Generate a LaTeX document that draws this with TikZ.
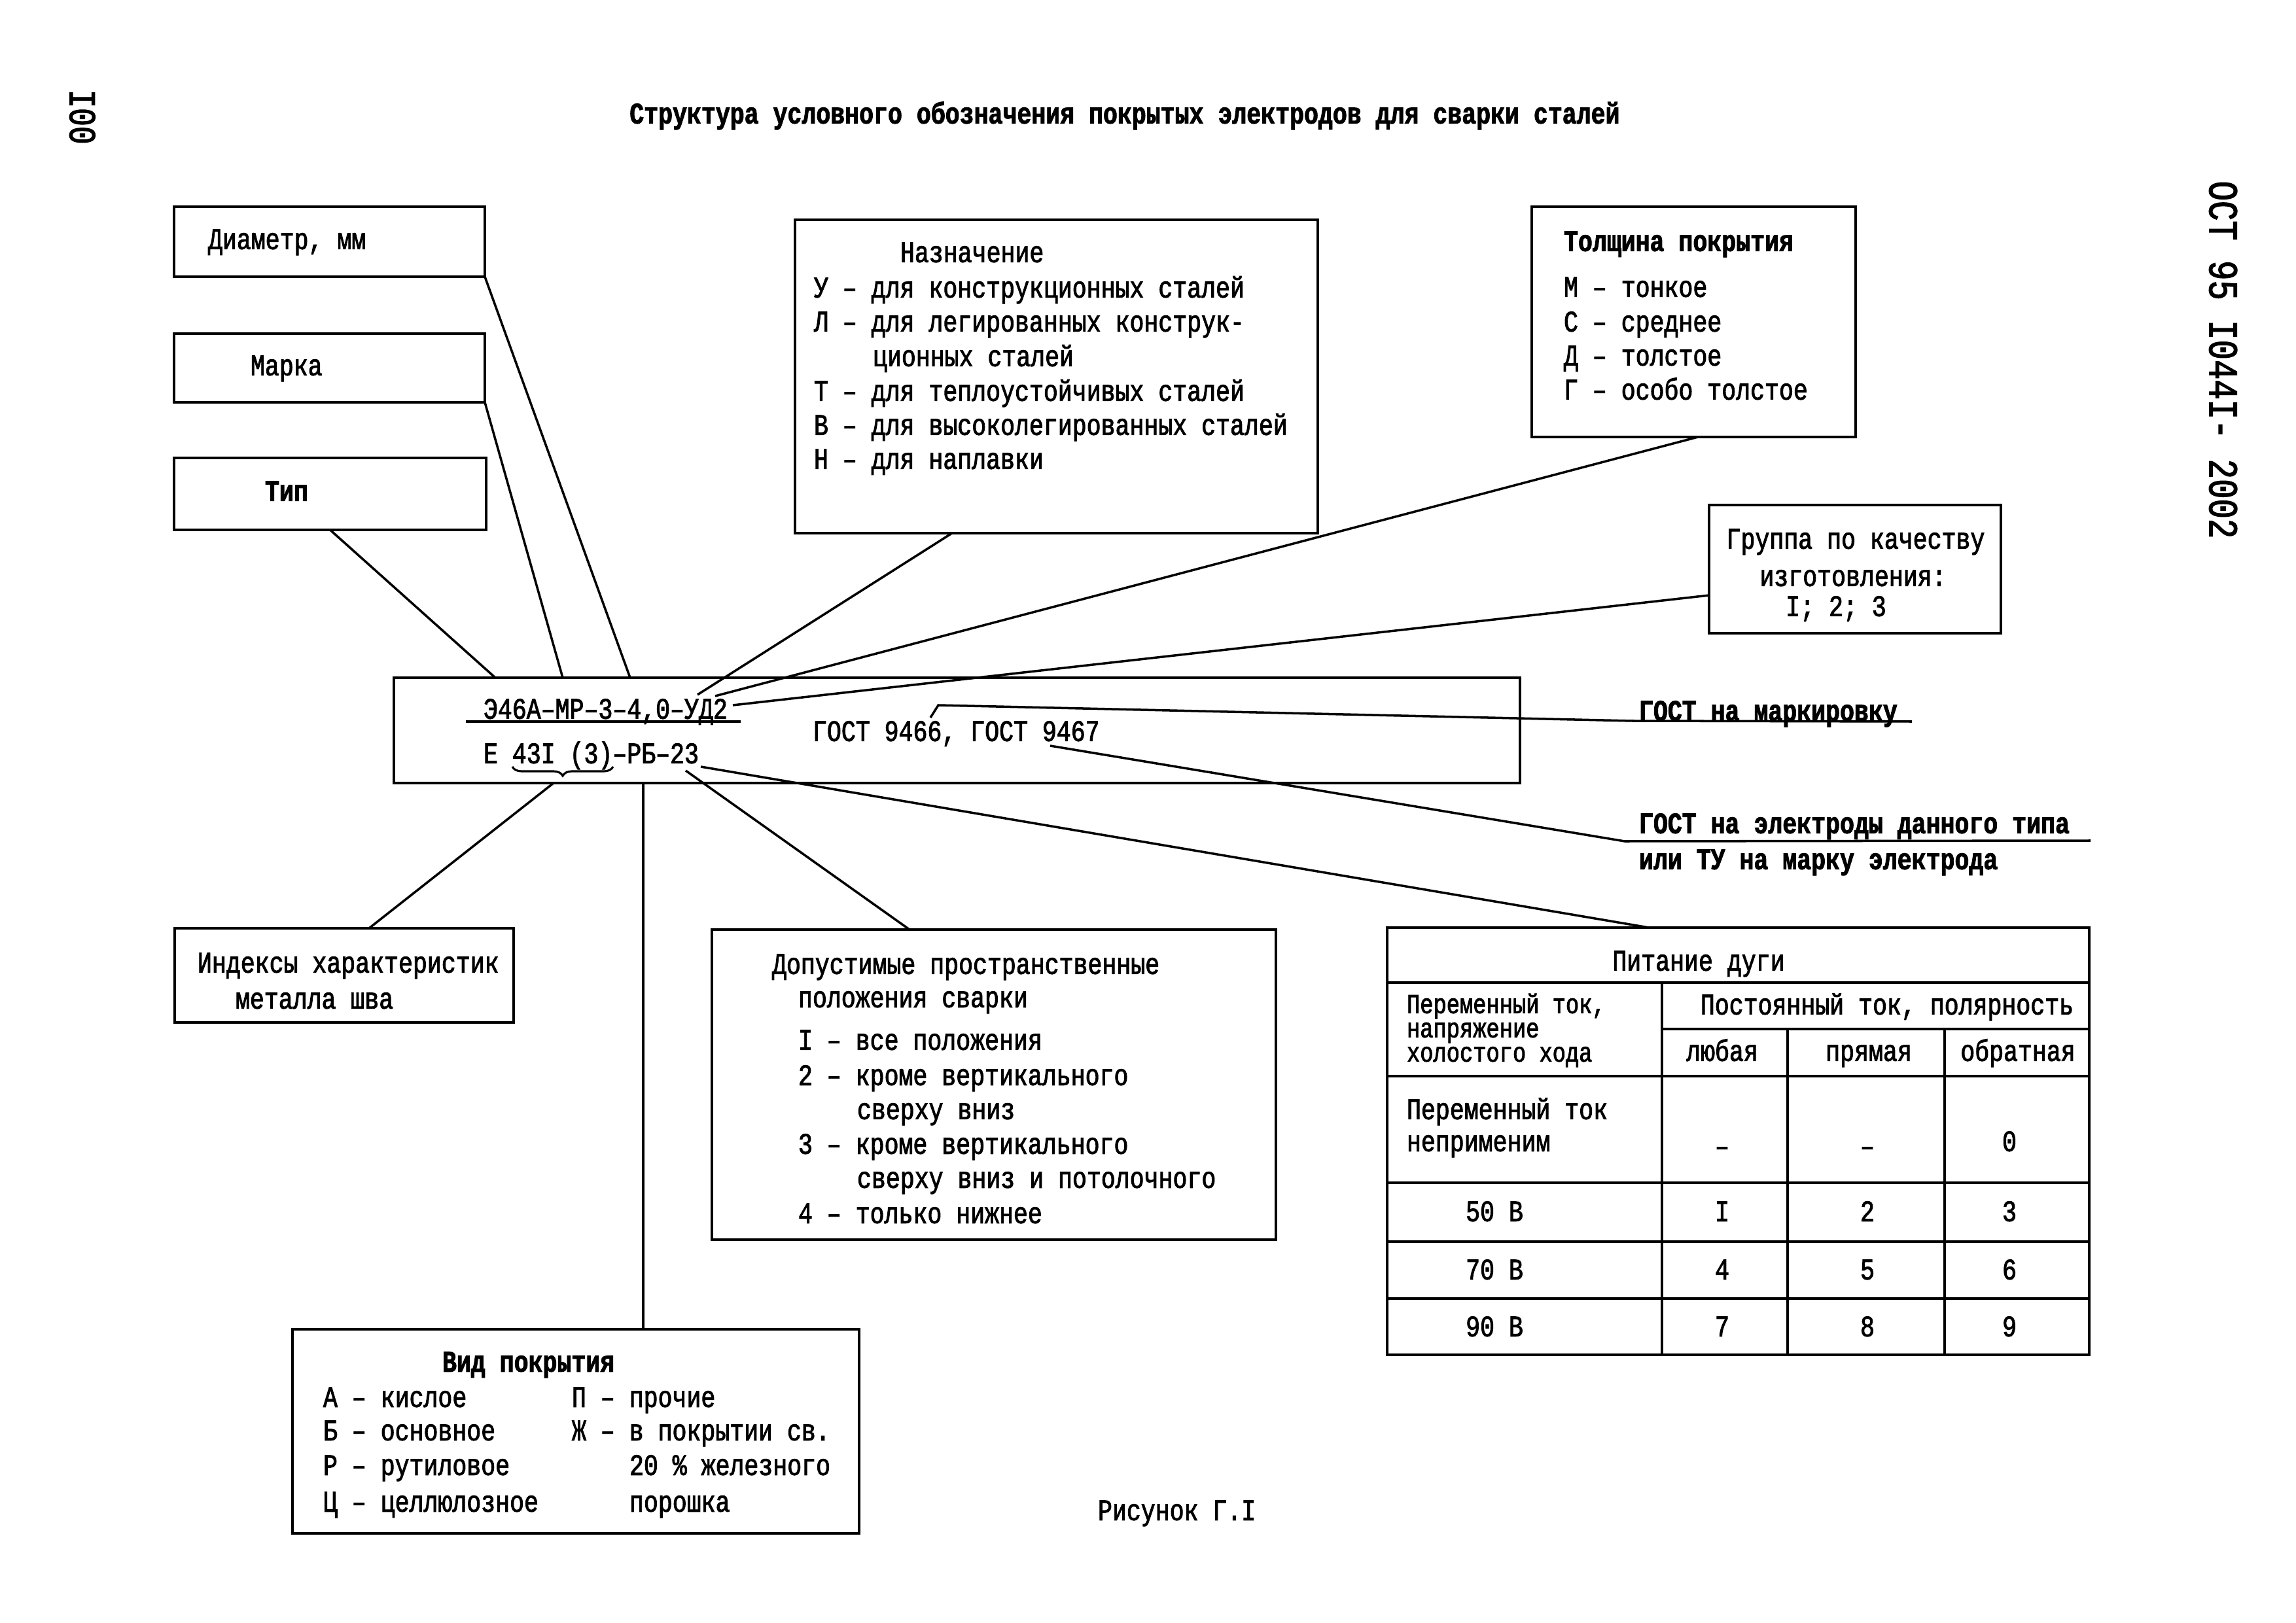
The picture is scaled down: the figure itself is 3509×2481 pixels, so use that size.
\documentclass[tikz,border=0pt]{standalone}
\usepackage{fontspec}
\setmainfont{Liberation Mono}[FakeStretch=0.8,FakeBold=2]
\usetikzlibrary{calc,decorations.pathreplacing}
\newcommand\mybox[5]{\node[box, minimum width={(#4-#2)*0.1mm}, minimum height={(#5-#3)*0.1mm}] (#1) at (#2,#3) {};}
\newcommand\tx[5][]{\node[txt,#1] (#2) at (#3,#4) {#5};}
\newcommand\cx[5][]{\node[ctxt,#1] (#2) at (#3,#4) {#5};}
\begin{document}
\begin{tikzpicture}[x=0.1mm,y=-0.1mm,
  every node/.style={font=\fontsize{13}{15}\selectfont, inner sep=0pt, outer sep=0pt},
  box/.style={draw, line width=1.3pt, anchor=north west},
  conn/.style={line width=1pt},
  grid/.style={line width=1.2pt},
  txt/.style={anchor=mid west, yshift=-0.45mm},
  ctxt/.style={anchor=mid, yshift=-0.45mm},
  bld/.style={font=\fontsize{13}{15}\selectfont\bfseries},
  tight/.style={font=\fontsize{12}{13}\selectfont}]
\fill[white] (0,0) rectangle (3509,2481);
\useasboundingbox (0,0) rectangle (3509,2481);

% title and margins
\cx[bld]{title}{1719}{175}{Структура условного обозначения покрытых электродов для сварки сталей}
\node[anchor=mid, rotate=-90, font=\fontsize{16.5}{18}\selectfont] (pg) at (116,179) {I00};
\node[anchor=mid, rotate=-90, font=\fontsize{18}{20}\selectfont] (hdr) at (3386,550) {ОСТ 95 I044I- 2002};

% boxes
\mybox{diam}{266}{316}{741}{423}
\mybox{marka}{266}{510}{741}{615}
\mybox{tip}{266}{700}{743}{810}
\mybox{naz}{1215}{336}{2014}{815}
\mybox{tol}{2341}{316}{2836}{668}
\mybox{grp}{2612}{772}{3058}{968}
\mybox{cen}{602}{1036}{2323}{1197}
\mybox{ind}{267}{1419}{785}{1563}
\mybox{dop}{1088}{1421}{1950}{1895}
\mybox{vid}{447}{2032}{1313}{2344}
\node[draw, line width=1.2pt, anchor=north west, minimum width={(3193-2120)*0.1mm}, minimum height={(2071-1418)*0.1mm}] (tbl) at (2120,1418) {};

% box texts
\tx{tdiam}{318}{367}{Диаметр, мм}
\tx{tmarka}{383}{560}{Марка}
\tx[bld]{ttip}{405}{752}{Тип}

\tx{naz0}{1376}{387}{Назначение}
\tx{naz1}{1244}{441}{У – для конструкционных сталей}
\tx{naz2}{1244}{493}{Л – для легированных конструк-}
\tx{naz3}{1334}{546}{ционных сталей}
\tx{naz4}{1244}{599}{Т – для теплоустойчивых сталей}
\tx{naz5}{1244}{651}{В – для высоколегированных сталей}
\tx{naz6}{1244}{703}{Н – для наплавки}

\tx[bld]{tol0}{2390}{370}{Толщина покрытия}
\tx{tol1}{2390}{440}{М – тонкое}
\tx{tol2}{2390}{493}{С – среднее}
\tx{tol3}{2390}{545}{Д – толстое}
\tx{tol4}{2390}{597}{Г – особо толстое}

\cx{grp1}{2836}{825}{Группа по качеству}
\cx{grp2}{2832}{882}{изготовления:}
\cx{grp3}{2806}{928}{I; 2; 3}

\tx{code1}{739}{1085}{Э46А–МР–3–4,0–УД2}
\tx{code2}{739}{1153}{Е 43I (3)–РБ–23}
\tx{gost}{1242}{1119}{ГОСТ 9466, ГОСТ 9467}

\tx[bld]{mk}{2505}{1088}{ГОСТ на маркировку}
\tx[bld]{el1}{2505}{1260}{ГОСТ на электроды данного типа}
\tx[bld]{el2}{2505}{1315}{или ТУ на марку электрода}

\tx{ind1}{302}{1473}{Индексы характеристик}
\tx{ind2}{360}{1528}{металла шва}

\tx{dop0}{1180}{1475}{Допустимые пространственные}
\tx{dop1}{1220}{1526}{положения сварки}
\tx{dop2}{1220}{1591}{I – все положения}
\tx{dop3}{1220}{1645}{2 – кроме вертикального}
\tx{dop4}{1310}{1697}{сверху вниз}
\tx{dop5}{1220}{1750}{3 – кроме вертикального}
\tx{dop6}{1310}{1802}{сверху вниз и потолочного}
\tx{dop7}{1220}{1856}{4 – только нижнее}

\tx[bld]{vid0}{676}{2083}{Вид покрытия}
\tx{vidA}{494}{2137}{А – кислое}
\tx{vidB}{494}{2188}{Б – основное}
\tx{vidR}{494}{2241}{Р – рутиловое}
\tx{vidC}{494}{2297}{Ц – целлюлозное}
\tx{vidP}{874}{2137}{П – прочие}
\tx{vidZ}{874}{2188}{Ж – в покрытии св.}
\tx{vidZ2}{962}{2241}{20 \% железного}
\tx{vidZ3}{962}{2297}{порошка}

\tx{fig}{1678}{2310}{Рисунок Г.I}

% table grid
\draw[grid] (2120,1502) -- (3193,1502);
\draw[grid] (2540,1573) -- (3193,1573);
\draw[grid] (2120,1645) -- (3193,1645);
\draw[grid] (2120,1808) -- (3193,1808);
\draw[grid] (2120,1898) -- (3193,1898);
\draw[grid] (2120,1985) -- (3193,1985);
\draw[grid] (2540,1502) -- (2540,2071);
\draw[grid] (2732,1573) -- (2732,2071);
\draw[grid] (2972,1573) -- (2972,2071);

% table texts
\cx{th0}{2596}{1470}{Питание дуги}
\tx[tight]{th1}{2150}{1535}{Переменный ток,}
\tx[tight]{th2}{2150}{1572}{напряжение}
\tx[tight]{th3}{2150}{1609}{холостого хода}
\cx{th4}{2884}{1537}{Постоянный ток, полярность}
\cx{th5}{2632}{1608}{любая}
\cx{th6}{2856}{1608}{прямая}
\cx{th7}{3084}{1608}{обратная}
\tx{r0a}{2150}{1697}{Переменный ток}
\tx{r0b}{2150}{1746}{неприменим}
\cx{r0c}{2632}{1753}{–}
\cx{r0d}{2854}{1753}{–}
\cx{r0e}{3071}{1746}{0}
\cx{r1a}{2284}{1853}{50 В}
\cx{r1b}{2632}{1853}{I}
\cx{r1c}{2854}{1853}{2}
\cx{r1d}{3071}{1853}{3}
\cx{r2a}{2284}{1942}{70 В}
\cx{r2b}{2632}{1942}{4}
\cx{r2c}{2854}{1942}{5}
\cx{r2d}{3071}{1942}{6}
\cx{r3a}{2284}{2029}{90 В}
\cx{r3b}{2632}{2029}{7}
\cx{r3c}{2854}{2029}{8}
\cx{r3d}{3071}{2029}{9}

% underline and brace in central box
\coordinate (ulL) at (712,1103);
\coordinate (ulR) at (1132,1103);
\draw[conn] (ulL) -- (ulR);
\coordinate (brL) at (783,1172);
\coordinate (brR) at (937,1172);
\draw[line width=0.9pt, decorate, decoration={brace, mirror, amplitude=1.4mm}] (brL) -- (brR);

% connectors from top boxes
\coordinate (eTip) at (757,1036);
\coordinate (eMarka) at (860,1036);
\coordinate (eDiam) at (963,1036);
\coordinate (eNaz) at (1066,1062);
\coordinate (eTol) at (1093,1064);
\coordinate (eGrp) at (1120,1078);
\draw[conn] (tip.south) -- (eTip);
\draw[conn] (marka.south east) -- (eMarka);
\draw[conn] (diam.south east) -- (eDiam);
\draw[conn] ($(naz.south west)+(240,0)$) -- (eNaz);
\draw[conn] ($(tol.south west)+(254,0)$) -- (eTol);
\draw[conn] ($(grp.north west)+(0,138)$) -- (eGrp);

% GOST connectors
\coordinate (hk1) at (1422,1097);
\coordinate (hk2) at (1434,1078);
\coordinate (mkL) at (2495,1102);
\coordinate (mkR) at (2922,1103);
\draw[conn] (hk1) -- (hk2) -- (mkL) -- (mkR);
\coordinate (elS) at (1605,1140);
\coordinate (elL) at (2483,1286);
\coordinate (elR) at (3195,1285);
\draw[conn] (elS) -- (elL) -- (elR);

% connectors to lower boxes
\draw[conn] ($(cen.south west)+(244,0)$) -- ($(ind.north west)+(297,0)$);
\draw[conn] ($(cen.south west)+(381,0)$) -- ($(vid.north west)+(536,0)$);
\coordinate (sDop) at (1048,1178);
\draw[conn] (sDop) -- ($(dop.north west)+(302,0)$);
\coordinate (sTbl) at (1071,1172);
\draw[conn] (sTbl) -- ($(tbl.north west)+(400,0)$);
\end{tikzpicture}
\end{document}
